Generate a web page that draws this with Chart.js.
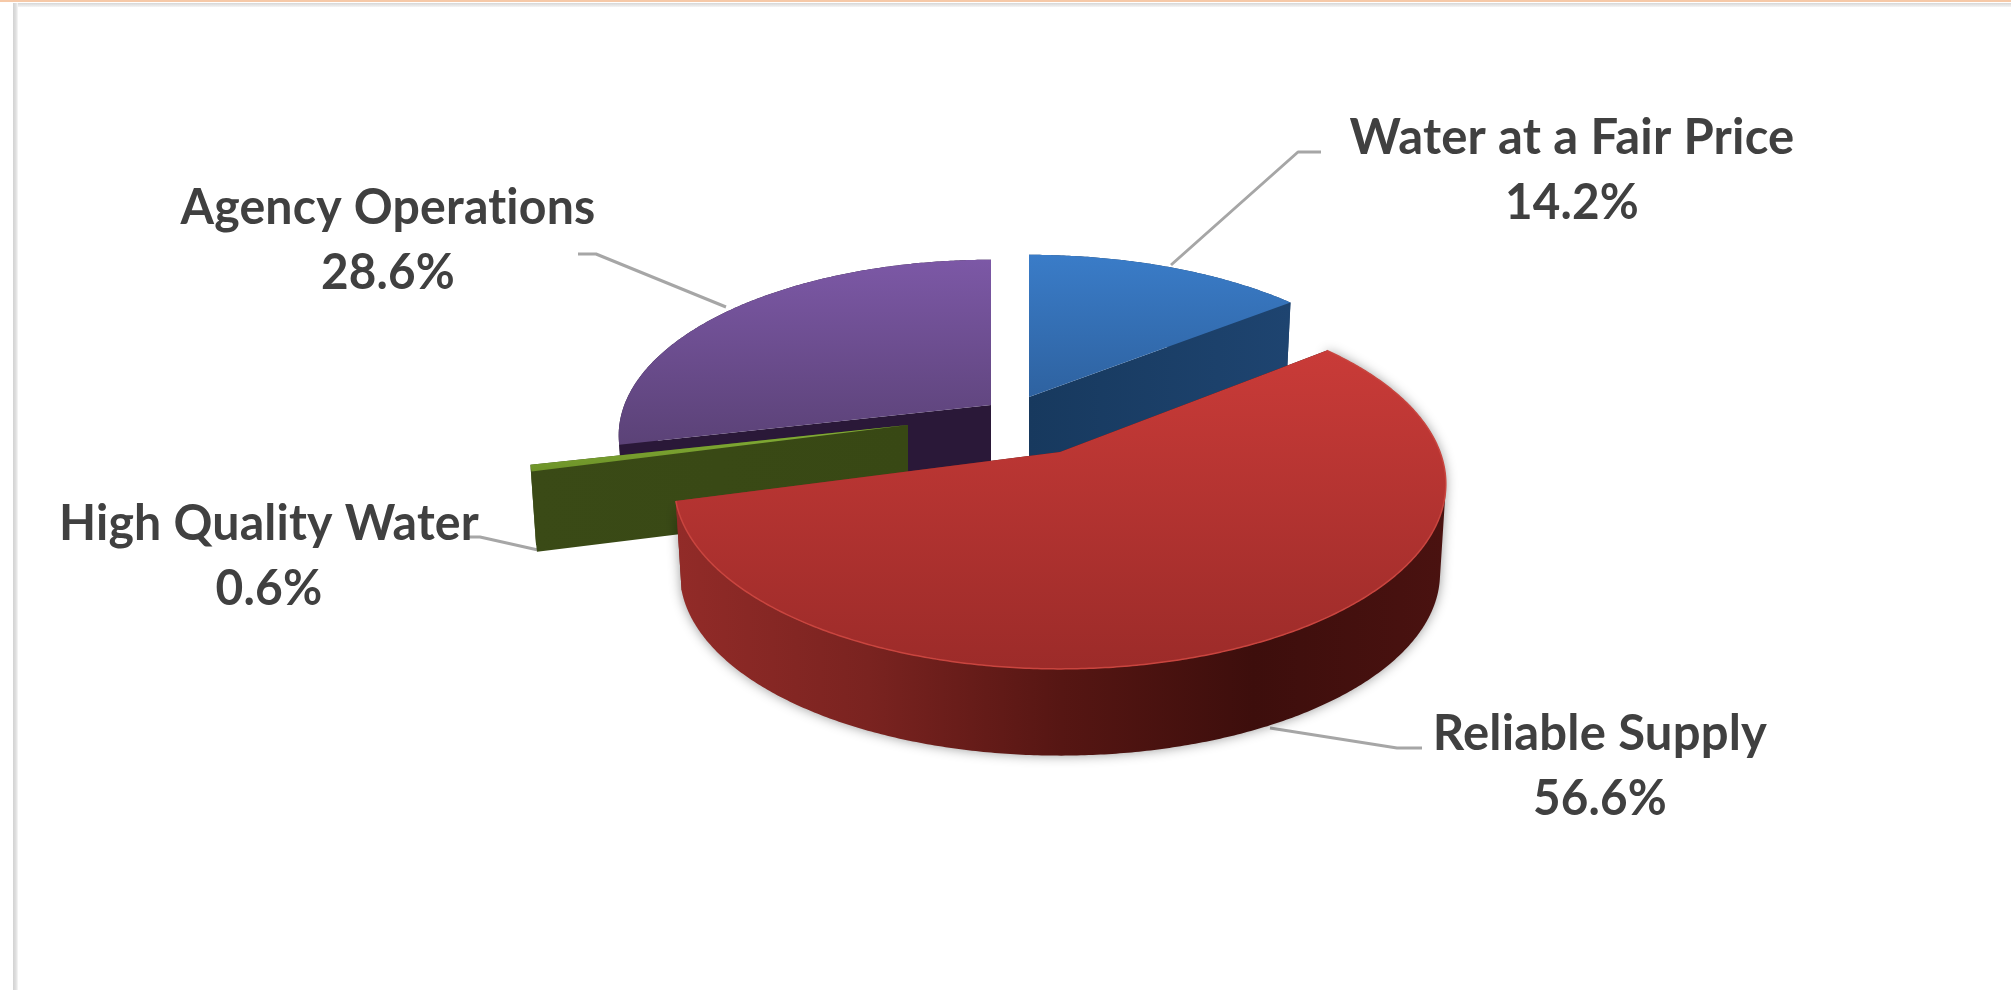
<!DOCTYPE html>
<html>
<head>
<meta charset="utf-8">
<title>Budget by goal</title>
<script src="https://cdn.jsdelivr.net/npm/chart.js@4"></script>
<style>
  html, body { margin: 0; padding: 0; background: #fff; overflow: hidden; }
  #frame { position: absolute; left: 0; top: 0; width: 2011px; height: 991px; }
  #orange { position: absolute; left: 0; top: 0; width: 2011px; height: 2px; background: #f6c9a8; }
  #greyTop { position: absolute; left: 13px; top: 3px; width: 1998px; height: 4px; background: linear-gradient(#d6d6d6, #f4f4f4); }
  #greyLeft { position: absolute; left: 13px; top: 3px; width: 5px; height: 987px; background: linear-gradient(90deg, #d2d2d2, #e0e0e0 60%, #f8f8f8); }
  #myChart { position: absolute; left: 0; top: 0; }
</style>
</head>
<body>
<div id="frame">
  <div id="orange"></div>
  <div id="greyTop"></div>
  <div id="greyLeft"></div>
  <canvas id="myChart" width="2011" height="991"></canvas>
</div>
<script>
const categories = ['Water at a Fair Price', 'Reliable Supply', 'High Quality Water', 'Agency Operations'];
const percents = [14.2, 56.6, 0.6, 28.6];
const baseColors = ['#3a7cc8', '#c83a38', '#7fa832', '#7c58a6'];

// look of the tilted pie
const tilt = 0.472;
const perspective = 0.173;
const bottomScale = 0.985;
const paintOrder = [3, 0, 2, 1];

// per slice: how far it is pulled out, its foreshortening, its thickness
const poses = [
    { dx: 13.5, dy: -18.5, sx: 0.98, sy: 0.93, depth: 78 },
    { dx: 44.5, dy: 36.5, sx: 1, sy: 1, depth: 90 },
    { dx: -107.5, dy: 9.5, sx: 0.98, sy: 0.95, depth: 81 },
    { dx: -24.5, dy: -10.5, sx: 0.965, sy: 0.95, depth: 78 }
];
const topShades = [
    ['#3a7cc8', '#2e62a0'],
    ['#c93b38', '#9c2b29'],
    ['#86b038', '#6d9228'],
    ['#7c58a6', '#5b4277']
];
const wallShades = [
    ['#17395e', '#1e4470'],
    ['#922b28', '#7a2320', '#561613', '#3d0e0c', '#4a1210'],
    ['#3a4a16', '#384814'],
    ['#2a1838', '#2a1838']
];

// text block baselines and leader lines, in page pixels
const callouts = [
    { x: 1572, y: 154, width: 447, valueWidth: 134, line: [[1171, 265], [1298, 152], [1321, 152]] },
    { x: 1600, y: 750, width: 336, valueWidth: 134, line: [[1270, 728], [1397, 748], [1422, 748]] },
    { x: 269, y: 540, width: 420, valueWidth: 107, line: [[538, 550], [480, 537], [464, 537]] },
    { x: 388, y: 224, width: 415, valueWidth: 134, line: [[726, 307], [596, 254], [578, 254]] }
];

function project(el, pose, theta, scale, drop) {
    const u = Math.sin(theta);
    const v = -Math.cos(theta);
    const w = 1 - perspective * v;
    const r = el.outerRadius * scale;
    return {
        x: el.x + pose.dx + r * pose.sx * u / w,
        y: el.y + pose.dy + drop + r * tilt * pose.sy * v / w
    };
}

function arcPoints(el, pose, scale, drop) {
    const t0 = el.startAngle + Math.PI / 2;
    const t1 = el.endAngle + Math.PI / 2;
    const n = Math.ceil((t1 - t0) * 180 / Math.PI) * 2 + 2;
    const pts = [];
    for (let i = 0; i <= n; i++) {
        pts.push(project(el, pose, t0 + (t1 - t0) * i / n, scale, drop));
    }
    return pts;
}

function addPolygon(ctx, pts) {
    pts.forEach((p, i) => {
        if (i === 0) ctx.moveTo(p.x, p.y);
        else ctx.lineTo(p.x, p.y);
    });
    ctx.closePath();
}

function signedArea(pts) {
    let sum = 0;
    pts.forEach((p, i) => {
        const q = pts[(i + 1) % pts.length];
        sum += p.x * q.y - q.x * p.y;
    });
    return sum;
}

function sideGradient(ctx, pts, shades) {
    const xs = pts.map(p => p.x);
    const g = ctx.createLinearGradient(Math.min(...xs), 0, Math.max(...xs), 0);
    shades.forEach((c, i) => g.addColorStop(i / (shades.length - 1), c));
    return g;
}

function drawSlice(ctx, el, i) {
    const pose = poses[i];
    const top = arcPoints(el, pose, 1, 0);
    const bottom = arcPoints(el, pose, bottomScale, pose.depth);
    const apexTop = { x: el.x + pose.dx, y: el.y + pose.dy };
    const apexBottom = { x: apexTop.x, y: apexTop.y + pose.depth };

    ctx.fillStyle = sideGradient(ctx, top.concat([apexTop]), wallShades[i]);

    // the two cut faces
    ctx.beginPath();
    addPolygon(ctx, [apexTop, top[0], bottom[0], apexBottom]);
    ctx.fill();
    ctx.beginPath();
    addPolygon(ctx, [apexTop, top[top.length - 1], bottom[bottom.length - 1], apexBottom]);
    ctx.fill();

    // rim as one path of small quads, all wound the same way so they add up
    ctx.save();
    if (i === 1) {
        ctx.shadowColor = 'rgba(0, 0, 0, 0.4)';
        ctx.shadowBlur = 12;
    }
    ctx.beginPath();
    for (let k = 0; k < top.length - 1; k++) {
        let quad = [top[k], top[k + 1], bottom[k + 1], bottom[k]];
        if (signedArea(quad) < 0) quad = quad.reverse();
        addPolygon(ctx, quad);
    }
    ctx.fill('nonzero');
    ctx.restore();

    // top surface
    const outline = [apexTop].concat(top);
    const ys = outline.map(p => p.y);
    const g = ctx.createLinearGradient(0, Math.min(...ys), 0, Math.max(...ys));
    g.addColorStop(0, topShades[i][0]);
    g.addColorStop(1, topShades[i][1]);
    ctx.fillStyle = g;
    ctx.beginPath();
    addPolygon(ctx, outline);
    ctx.fill();

    // light edge along the front of the big slice
    if (i === 1) {
        ctx.strokeStyle = '#c9453f';
        ctx.lineWidth = 1.5;
        ctx.beginPath();
        top.forEach((p, k) => {
            if (k === 0) ctx.moveTo(p.x, p.y);
            else ctx.lineTo(p.x, p.y);
        });
        ctx.stroke();
    }
}

const pie3d = {
    id: 'pie3d',
    beforeDatasetsDraw(chart) {
        const ctx = chart.ctx;
        const arcs = chart.getDatasetMeta(0).data;

        // leader lines sit under the pie
        ctx.save();
        ctx.strokeStyle = '#a6a6a6';
        ctx.lineWidth = 3;
        ctx.lineJoin = 'round';
        callouts.forEach(c => {
            ctx.beginPath();
            c.line.forEach((p, k) => {
                if (k === 0) ctx.moveTo(p[0], p[1]);
                else ctx.lineTo(p[0], p[1]);
            });
            ctx.stroke();
        });
        ctx.restore();

        paintOrder.forEach(i => drawSlice(ctx, arcs[i], i));
        return false; // slices are painted here instead of flat
    },
    afterDraw(chart) {
        const ctx = chart.ctx;
        ctx.save();
        ctx.fillStyle = '#404040';
        ctx.font = 'bold 49px Lato';
        ctx.letterSpacing = '0.2px';
        ctx.textAlign = 'center';
        ctx.textBaseline = 'alphabetic';
        categories.forEach((name, i) => {
            const c = callouts[i];
            ctx.fillText(name, c.x, c.y, c.width);
            ctx.fillText(percents[i].toFixed(1) + '%', c.x, c.y + 65, c.valueWidth);
        });
        ctx.restore();
    }
};

new Chart(document.getElementById('myChart'), {
    type: 'pie',
    data: {
        labels: categories,
        datasets: [{
            data: percents,
            backgroundColor: baseColors,
            borderWidth: 0
        }]
    },
    options: {
        responsive: false,
        animation: false,
        radius: 380,
        layout: { padding: { left: 20, bottom: 160 } },
        plugins: {
            legend: { display: false },
            title: { display: false },
            tooltip: { enabled: false }
        }
    },
    plugins: [pie3d]
});
</script>
</body>
</html>
